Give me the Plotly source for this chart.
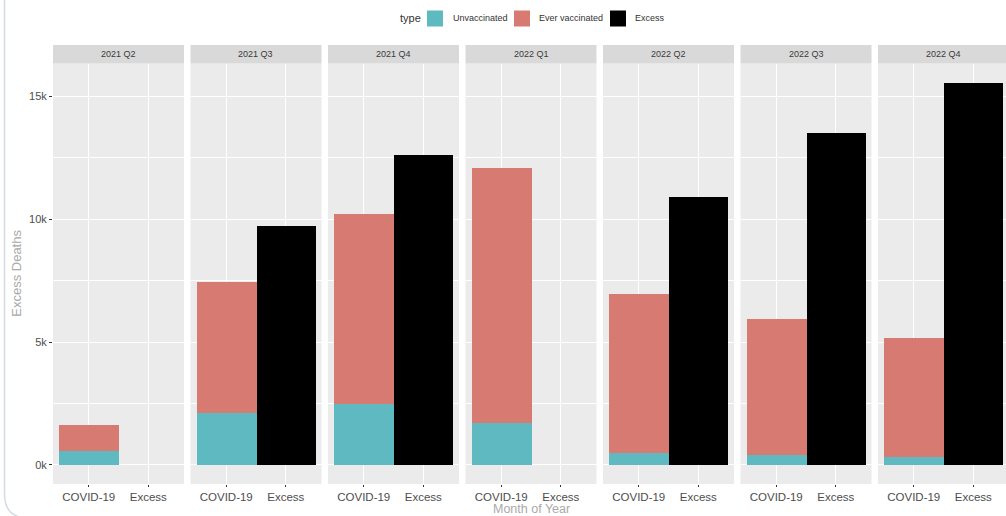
import plotly.graph_objects as go

# Deaths per quarter
quarters = ["2021 Q2", "2021 Q3", "2021 Q4", "2022 Q1", "2022 Q2", "2022 Q3", "2022 Q4"]
categories = ["COVID-19", "Excess"]
unvaccinated = [570, 2130, 2510, 1720, 500, 410, 340]
ever_vaccinated = [1080, 5340, 7720, 10410, 6480, 5550, 4840]
excess = [None, 9760, 12640, None, 10950, 13550, 15570]

type_names = ["Unvaccinated", "Ever vaccinated", "Excess"]
type_colors = ["#5FB9C1", "#D77B72", "#000000"]

W, H = 1006, 516
FONT = "Liberation Sans, Arial, sans-serif"


def px(x):
    return x / W


def py(y):
    return 1 - y / H


# facet geometry (pixels)
panel_left0, panel_step, panel_w = 53, 137.5, 131
panel_top, panel_bottom = 63.5, 484
strip_top = 45
cat_pad = 0.6  # discrete axis expansion on each side

totals = [u + v for u, v in zip(unvaccinated, ever_vaccinated)]
ymax = max(totals + [e for e in excess if e is not None])
yrange = [-0.05 * ymax, 1.05 * ymax]

fig = go.Figure()
layout = dict(
    width=W, height=H, autosize=False,
    margin=dict(l=0, r=0, t=0, b=0),
    paper_bgcolor="white", plot_bgcolor="#EBEBEB",
    showlegend=False, barmode="stack", bargap=0,
    font=dict(family=FONT, color="#4D4D4D"),
)
shapes, annotations = [], []

for i, q in enumerate(quarters):
    n = "" if i == 0 else str(i + 1)
    xa, ya = "x" + n, "y" + n
    left = panel_left0 + i * panel_step
    right = min(left + panel_w, W)
    span = (len(categories) - 1 + 2 * cat_pad) * (right - left) / panel_w

    fig.add_trace(go.Bar(x=[categories[0]], y=[unvaccinated[i]], name=type_names[0],
                         marker=dict(color=type_colors[0], line=dict(width=0)),
                         width=1, xaxis=xa, yaxis=ya))
    fig.add_trace(go.Bar(x=[categories[0]], y=[ever_vaccinated[i]], name=type_names[1],
                         marker=dict(color=type_colors[1], line=dict(width=0)),
                         width=1, xaxis=xa, yaxis=ya))
    fig.add_trace(go.Bar(x=[categories[1]], y=[excess[i]], name=type_names[2],
                         marker=dict(color=type_colors[2], line=dict(width=0)),
                         width=1, xaxis=xa, yaxis=ya))

    layout["xaxis" + n] = dict(
        domain=[px(left), px(right)], anchor=ya, type="category",
        categoryorder="array", categoryarray=categories,
        range=[-cat_pad, -cat_pad + span], fixedrange=True,
        showgrid=True, gridcolor="white", gridwidth=1.2, zeroline=False,
        showline=False, ticks="outside", ticklen=2, tickwidth=1, tickcolor="#333333",
        tickfont=dict(size=11.5, color="#4D4D4D", family=FONT),
    )
    layout["yaxis" + n] = dict(
        domain=[py(panel_bottom), py(panel_top)], anchor=xa, range=yrange,
        tickvals=[0, 5000, 10000, 15000], ticktext=["0k", "5k", "10k", "15k"],
        showgrid=True, gridcolor="white", gridwidth=1.2, zeroline=False, showline=False,
        minor=dict(tickvals=[2500, 7500, 12500], showgrid=True, gridcolor="white", gridwidth=0.6),
        showticklabels=(i == 0), ticks="outside" if i == 0 else "",
        ticklen=3, tickwidth=1, tickcolor="#333333",
        tickfont=dict(size=11, color="#4D4D4D", family=FONT), fixedrange=True,
    )
    if i > 0:
        layout["yaxis" + n]["matches"] = "y"

    # facet strip
    shapes.append(dict(type="rect", xref="paper", yref="paper",
                       x0=px(left), x1=px(right), y0=py(panel_top), y1=py(strip_top),
                       fillcolor="#D9D9D9", line=dict(width=0)))
    annotations.append(dict(text=q, xref="paper", yref="paper",
                            x=px(left + panel_w / 2), y=py((strip_top + panel_top) / 2),
                            showarrow=False, xanchor="center", yanchor="middle",
                            font=dict(size=9, color="#3A3A3A", family=FONT)))

# axis titles
annotations.append(dict(text="Month of Year", xref="paper", yref="paper",
                        x=px(panel_left0 + 3 * panel_step + panel_w / 2), y=py(509),
                        showarrow=False, xanchor="center", yanchor="middle", borderpad=0,
                        font=dict(size=12.5, color="#A9A9A9", family=FONT)))
annotations.append(dict(text="Excess Deaths", xref="paper", yref="paper",
                        x=px(17), y=py((panel_top + panel_bottom) / 2), textangle=-90,
                        showarrow=False, xanchor="center", yanchor="middle",
                        font=dict(size=13, color="#A9A9A9", family=FONT)))

# legend
annotations.append(dict(text="type", xref="paper", yref="paper", x=px(398), y=py(18.5),
                        showarrow=False, xanchor="left", yanchor="middle",
                        font=dict(size=11, color="#333333", family=FONT)))
key_x = [427, 514, 610]
label_x = [451, 537, 633]
for name, color, kx, lx in zip(type_names, type_colors, key_x, label_x):
    shapes.append(dict(type="rect", xref="paper", yref="paper",
                       x0=px(kx), x1=px(kx + 16), y0=py(26.5), y1=py(10.5),
                       fillcolor=color, line=dict(width=0)))
    annotations.append(dict(text=name, xref="paper", yref="paper", x=px(lx), y=py(18.5),
                            showarrow=False, xanchor="left", yanchor="middle",
                            font=dict(size=9, color="#333333", family=FONT)))

# card outline (bottom edge falls just below the page)
bx, by, r = 4.5, 518, 24
card_path = (f"M {px(bx)},{py(0)} L {px(bx)},{py(by - r)} "
             f"Q {px(bx)},{py(by)} {px(bx + r)},{py(by)} L {px(W)},{py(by)}")
shapes.append(dict(type="path", xref="paper", yref="paper", path=card_path,
                   line=dict(color="#D5DCE3", width=1.5)))

layout["shapes"] = shapes
layout["annotations"] = annotations
fig.update_layout(**layout)

fig.write_html("out.html", config={"displayModeBar": False})
